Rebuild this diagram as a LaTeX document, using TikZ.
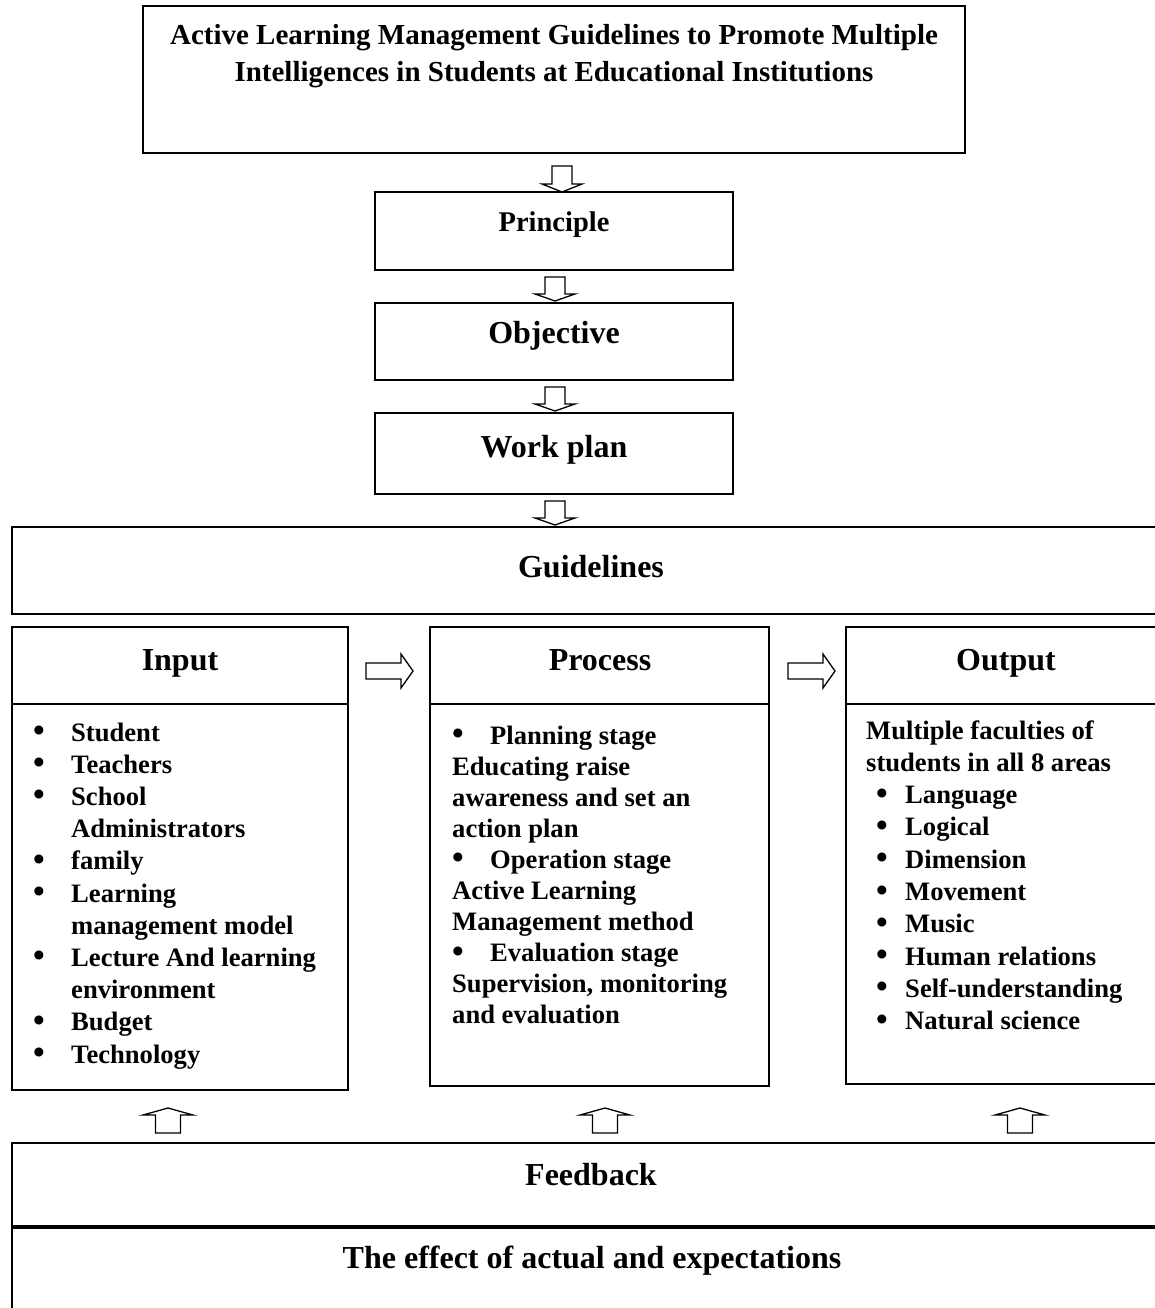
\documentclass[tikz,border=0pt]{standalone}
\usepackage{fontspec}
\setmainfont{Liberation Serif}
\newcommand\bul{\raisebox{-0.5pt}{\scalebox{1.25}{\textbullet}}}
\begin{document}
\begin{tikzpicture}[x=1pt,y=-1pt,
  box/.style={draw=black,line width=1.6pt},
  divider/.style={draw=black,line width=2.6pt},
  arr/.style={draw=black,line width=1.3pt,fill=white,line join=miter},
  txt/.style={font=\bfseries\fontsize{29}{33}\selectfont,inner sep=0pt},
  head/.style={font=\bfseries\fontsize{32}{36}\selectfont,inner sep=0pt,anchor=base},
  lst/.style={font=\bfseries\fontsize{26.6}{30}\selectfont,inner sep=0pt,anchor=base west}]
\useasboundingbox (0,0) rectangle (1155,1308);
\fill[white] (0,0) rectangle (1155,1308);
\newcommand\dnarr[4]{\draw[arr] (#1-10,#2) -- (#1+10,#2) -- (#1+10,#3) -- (#1+20,#3) -- (#1,#4) -- (#1-20,#3) -- (#1-10,#3) -- cycle;}
\newcommand\rtarr[2]{\draw[arr] (#1,#2-8) -- (#1+35,#2-8) -- (#1+35,#2-17) -- (#1+47,#2) -- (#1+35,#2+17) -- (#1+35,#2+8) -- (#1,#2+8) -- cycle;}
\newcommand\uparr[1]{\draw[arr] (#1-12.5,1133) -- (#1-12.5,1115) -- (#1-25,1115) -- (#1,1108) -- (#1+25,1115) -- (#1+12.5,1115) -- (#1+12.5,1133) -- cycle;}
% boxes
\draw[box] (143,6) rectangle (965,153);
\draw[box] (375,192) rectangle (733,270);
\draw[box] (375,303) rectangle (733,380);
\draw[box] (375,413) rectangle (733,494);
\draw[box] (12,527) rectangle (1175,614);
\draw[box] (12,627) rectangle (348,1090);
\draw[divider] (12,704) -- (348,704);
\draw[box] (430,627) rectangle (769,1086);
\draw[divider] (430,704) -- (769,704);
\draw[box] (846,627) rectangle (1175,1084);
\draw[divider] (846,704) -- (1175,704);
\draw[box] (12,1143) rectangle (1175,1330);
\draw[line width=3.5pt] (12,1227) -- (1175,1227);
% texts
\node[txt,anchor=base] (t1) at (554,45) {Active Learning Management Guidelines to Promote Multiple};
\node[txt,anchor=base] (t2) at (554,82) {Intelligences in Students at Educational Institutions};
\node[head,font=\bfseries\fontsize{28.5}{32}\selectfont] (pr) at (554,231) {Principle};
\node[head] (ob) at (554,343) {Objective};
\node[head] (wp) at (554,457) {Work plan};
\node[head] (gl) at (591,577) {Guidelines};
\node[head] (in) at (180,670) {Input};
\node[head] (pc) at (600,670) {Process};
\node[head] (ou) at (1006,670) {Output};
\node[head] (fb) at (591,1185) {Feedback};
\node[head] (ef) at (592,1268) {The effect of actual and expectations};
% arrows
\dnarr{562}{166}{184}{192}
\dnarr{555}{277}{294}{301}
\dnarr{555}{387}{404}{411}
\dnarr{555}{501}{518}{525}
\rtarr{366}{671}
\rtarr{788}{671}
\uparr{168}
\uparr{605}
\uparr{1020}
% input list
\foreach \t [count=\i] in {
 {\makebox[38pt][l]{\bul}Student},
 {\makebox[38pt][l]{\bul}Teachers},
 {\makebox[38pt][l]{\bul}School},
 {\hspace*{38pt}Administrators},
 {\makebox[38pt][l]{\bul}family},
 {\makebox[38pt][l]{\bul}Learning},
 {\hspace*{38pt}management model},
 {\makebox[38pt][l]{\bul}Lecture And learning},
 {\hspace*{38pt}environment},
 {\makebox[38pt][l]{\bul}Budget},
 {\makebox[38pt][l]{\bul}Technology}}
 \node[lst] (il\i) at (33,{741+(\i-1)*32.2}) {\t};
% process list
\foreach \t [count=\i] in {
 {\makebox[38pt][l]{\bul}Planning stage},
 {Educating raise},
 {awareness and set an},
 {action plan},
 {\makebox[38pt][l]{\bul}Operation stage},
 {Active Learning},
 {Management method},
 {\makebox[38pt][l]{\bul}Evaluation stage},
 {Supervision, monitoring},
 {and evaluation}}
 \node[lst] (pl\i) at (452,{744+(\i-1)*31.1}) {\t};
% output list
\foreach \t [count=\i] in {
 {Multiple faculties of},
 {students in all 8 areas},
 {\hspace*{10pt}\makebox[29pt][l]{\bul}Language},
 {\hspace*{10pt}\makebox[29pt][l]{\bul}Logical},
 {\hspace*{10pt}\makebox[29pt][l]{\bul}Dimension},
 {\hspace*{10pt}\makebox[29pt][l]{\bul}Movement},
 {\hspace*{10pt}\makebox[29pt][l]{\bul}Music},
 {\hspace*{10pt}\makebox[29pt][l]{\bul}Human relations},
 {\hspace*{10pt}\makebox[29pt][l]{\bul}Self-understanding},
 {\hspace*{10pt}\makebox[29pt][l]{\bul}Natural science}}
 \node[lst] (ol\i) at (866,{739+(\i-1)*32.3}) {\t};
\end{tikzpicture}
\end{document}
